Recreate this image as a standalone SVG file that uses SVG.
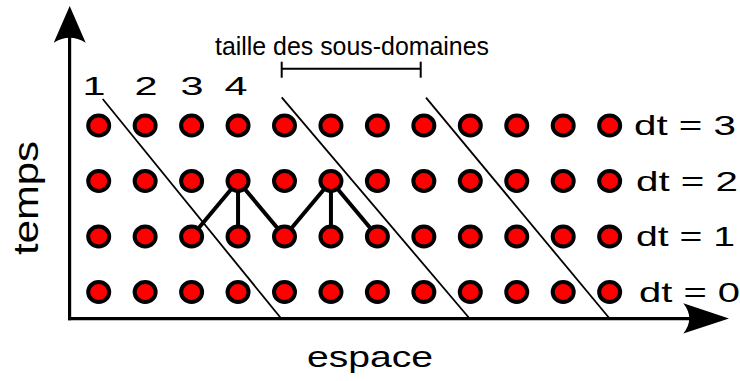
<svg xmlns="http://www.w3.org/2000/svg" width="740" height="381" viewBox="0 0 740 381">
<style>
.dot{fill:#ff0000;stroke:#000;stroke-width:4}
.diag{stroke:#000;stroke-width:1.8;fill:none}
.link{stroke:#000;stroke-width:4;fill:none}
.axis{stroke:#000;stroke-width:3.2;fill:none}
.t{font-family:"Liberation Sans",Arial,sans-serif;fill:#000}
</style>
<defs>
<ellipse id="d" cx="0" cy="0" rx="10.5" ry="10" class="dot"/>
</defs>
<rect width="740" height="381" fill="#fff"/>
<g id="axes">
<line class="axis" x1="69.6" y1="36" x2="69.6" y2="320.3"/>
<line class="axis" x1="68" y1="318.7" x2="692" y2="318.7"/>
<path d="M69.7,6 L85.7,42.7 Q69.7,33 53.7,42.7 Z" fill="#000"/>
<path d="M729,318.6 L683.3,303.3 Q695.3,318.6 683.3,333.5 Z" fill="#000"/>
</g>
<g id="dividers">
<line class="diag" x1="102.7" y1="99" x2="281.6" y2="319"/>
<line class="diag" x1="281.7" y1="97.3" x2="470" y2="319"/>
<line class="diag" x1="426" y1="97.7" x2="610" y2="319"/>
</g>
<g id="scale">
<line x1="281.7" y1="61.7" x2="281.7" y2="77.7" stroke="#000" stroke-width="2"/>
<line x1="420.7" y1="61.7" x2="420.7" y2="77.7" stroke="#000" stroke-width="2"/>
<line x1="281.7" y1="68.7" x2="420.7" y2="68.7" stroke="#000" stroke-width="2"/>
<text class="t" x="215" y="55" font-size="25.5" textLength="274" lengthAdjust="spacingAndGlyphs">taille des sous-domaines</text>
</g>
<g id="connectors">
<line class="link" x1="191.6" y1="236.5" x2="238.05" y2="181"/>
<line class="link" x1="238.05" y1="181" x2="238.05" y2="236.5"/>
<line class="link" x1="238.05" y1="181" x2="284.5" y2="236.5"/>
<line class="link" x1="284.5" y1="236.5" x2="330.95" y2="181"/>
<line class="link" x1="330.95" y1="181" x2="330.95" y2="236.5"/>
<line class="link" x1="330.95" y1="181" x2="377.4" y2="236.5"/>
</g>
<g id="row-dt3">
<g id="n3-1"><use href="#d" x="98.7" y="125.5"/></g>
<g id="n3-2"><use href="#d" x="145.15" y="125.5"/></g>
<g id="n3-3"><use href="#d" x="191.6" y="125.5"/></g>
<g id="n3-4"><use href="#d" x="238.05" y="125.5"/></g>
<g id="n3-5"><use href="#d" x="284.5" y="125.5"/></g>
<g id="n3-6"><use href="#d" x="330.95" y="125.5"/></g>
<g id="n3-7"><use href="#d" x="377.4" y="125.5"/></g>
<g id="n3-8"><use href="#d" x="423.85" y="125.5"/></g>
<g id="n3-9"><use href="#d" x="470.3" y="125.5"/></g>
<g id="n3-10"><use href="#d" x="516.75" y="125.5"/></g>
<g id="n3-11"><use href="#d" x="563.2" y="125.5"/></g>
<g id="n3-12"><use href="#d" x="609.65" y="125.5"/></g>
</g>
<g id="row-dt2">
<g id="n2-1"><use href="#d" x="98.7" y="181"/></g>
<g id="n2-2"><use href="#d" x="145.15" y="181"/></g>
<g id="n2-3"><use href="#d" x="191.6" y="181"/></g>
<g id="n2-4"><use href="#d" x="238.05" y="181"/></g>
<g id="n2-5"><use href="#d" x="284.5" y="181"/></g>
<g id="n2-6"><use href="#d" x="330.95" y="181"/></g>
<g id="n2-7"><use href="#d" x="377.4" y="181"/></g>
<g id="n2-8"><use href="#d" x="423.85" y="181"/></g>
<g id="n2-9"><use href="#d" x="470.3" y="181"/></g>
<g id="n2-10"><use href="#d" x="516.75" y="181"/></g>
<g id="n2-11"><use href="#d" x="563.2" y="181"/></g>
<g id="n2-12"><use href="#d" x="609.65" y="181"/></g>
</g>
<g id="row-dt1">
<g id="n1-1"><use href="#d" x="98.7" y="236.5"/></g>
<g id="n1-2"><use href="#d" x="145.15" y="236.5"/></g>
<g id="n1-3"><use href="#d" x="191.6" y="236.5"/></g>
<g id="n1-4"><use href="#d" x="238.05" y="236.5"/></g>
<g id="n1-5"><use href="#d" x="284.5" y="236.5"/></g>
<g id="n1-6"><use href="#d" x="330.95" y="236.5"/></g>
<g id="n1-7"><use href="#d" x="377.4" y="236.5"/></g>
<g id="n1-8"><use href="#d" x="423.85" y="236.5"/></g>
<g id="n1-9"><use href="#d" x="470.3" y="236.5"/></g>
<g id="n1-10"><use href="#d" x="516.75" y="236.5"/></g>
<g id="n1-11"><use href="#d" x="563.2" y="236.5"/></g>
<g id="n1-12"><use href="#d" x="609.65" y="236.5"/></g>
</g>
<g id="row-dt0">
<g id="n0-1"><use href="#d" x="98.7" y="292"/></g>
<g id="n0-2"><use href="#d" x="145.15" y="292"/></g>
<g id="n0-3"><use href="#d" x="191.6" y="292"/></g>
<g id="n0-4"><use href="#d" x="238.05" y="292"/></g>
<g id="n0-5"><use href="#d" x="284.5" y="292"/></g>
<g id="n0-6"><use href="#d" x="330.95" y="292"/></g>
<g id="n0-7"><use href="#d" x="377.4" y="292"/></g>
<g id="n0-8"><use href="#d" x="423.85" y="292"/></g>
<g id="n0-9"><use href="#d" x="470.3" y="292"/></g>
<g id="n0-10"><use href="#d" x="516.75" y="292"/></g>
<g id="n0-11"><use href="#d" x="563.2" y="292"/></g>
<g id="n0-12"><use href="#d" x="609.65" y="292"/></g>
</g>
<g id="labels">
<text class="t" x="94" y="95" font-size="25.5" text-anchor="middle" textLength="23" lengthAdjust="spacingAndGlyphs">1</text>
<text class="t" x="146" y="95" font-size="25.5" text-anchor="middle" textLength="23" lengthAdjust="spacingAndGlyphs">2</text>
<text class="t" x="192" y="95" font-size="25.5" text-anchor="middle" textLength="23" lengthAdjust="spacingAndGlyphs">3</text>
<text class="t" x="236" y="95" font-size="25.5" text-anchor="middle" textLength="23" lengthAdjust="spacingAndGlyphs">4</text>
<text class="t" x="634" y="135" font-size="28" textLength="102" lengthAdjust="spacingAndGlyphs">dt = 3</text>
<text class="t" x="636" y="190.5" font-size="28" textLength="102" lengthAdjust="spacingAndGlyphs">dt = 2</text>
<text class="t" x="636" y="246" font-size="28" textLength="99" lengthAdjust="spacingAndGlyphs">dt = 1</text>
<text class="t" x="639" y="301.5" font-size="28" textLength="101" lengthAdjust="spacingAndGlyphs">dt = 0</text>
<text class="t" transform="translate(38.3,198) rotate(-90)" x="0" y="0" font-size="35" text-anchor="middle" textLength="114" lengthAdjust="spacingAndGlyphs">temps</text>
<text class="t" x="370" y="366.5" font-size="29" text-anchor="middle" textLength="126" lengthAdjust="spacingAndGlyphs">espace</text>
</g>
</svg>
